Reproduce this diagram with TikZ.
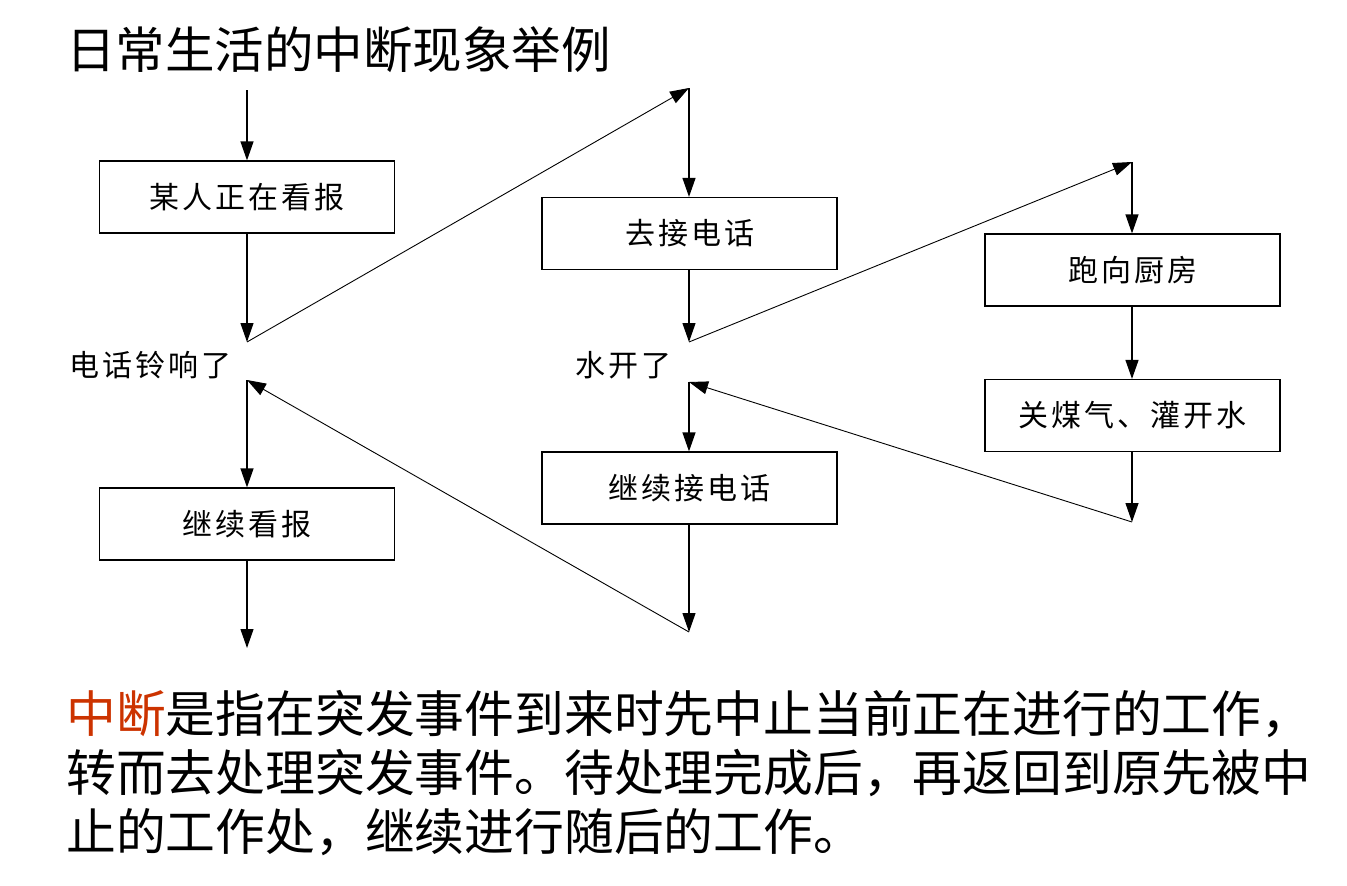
\documentclass[tikz,border=0pt]{standalone}
\usepackage{fontspec}
\setmainfont{Noto Sans CJK SC}
\newfontfamily\boxfont{Noto Sans CJK SC}[LetterSpace=10]
\usetikzlibrary{arrows.meta}
\definecolor{keyred}{RGB}{204,51,0}
\tikzset{
  stepbox/.style={draw=black, line width=1.2pt, minimum width=295pt, minimum height=72pt, inner sep=0pt, font=\boxfont\fontsize{30}{30}\selectfont},
  lbl/.style={inner sep=0pt, font=\boxfont\fontsize{30}{30}\selectfont},
  arr/.style={line width=1.2pt, -{Triangle[length=19pt,width=13pt]}},
  slant/.style={line width=0.9pt, -{Triangle[length=19pt,width=13pt]}},
}
\begin{document}
\begin{tikzpicture}[x=1pt,y=-1pt]
\useasboundingbox (0,0) rectangle (1347,886);
% title
\node[inner sep=0pt, anchor=base west, font=\fontsize{49.5}{49.5}\selectfont] (title) at (66,68) {日常生活的中断现象举例};
% boxes
\node[stepbox] (b1) at (247,197) {某人正在看报};
\node[stepbox] (b2) at (689.5,233.5) {去接电话};
\node[stepbox] (b3) at (1132.5,270) {跑向厨房};
\node[stepbox] (b4) at (1132.5,415.5) {关煤气、灌开水};
\node[stepbox] (b5) at (689.5,488) {继续接电话};
\node[stepbox] (b6) at (247,524) {继续看报};
% labels
\node[lbl] (l1) at (150,365) {电话铃响了};
\node[lbl] (l2) at (623,365) {水开了};
% points
\coordinate (c0) at (247,90);
\coordinate (p1) at (247,342);
\coordinate (r1) at (689,88);
\coordinate (p2) at (689,342);
\coordinate (r2) at (1132,162);
\coordinate (p3) at (1132,522);
\coordinate (q2) at (689,382);
\coordinate (p4) at (689,632);
\coordinate (q1) at (247,380);
\coordinate (e) at (247,648);
% connectors
\draw[arr] (c0) -- (b1.north);
\draw[arr] (b1.south) -- (p1);
\draw[slant] (p1) -- (r1);
\draw[arr] (r1) -- (b2.north -| r1);
\draw[arr] (b2.south -| r1) -- (p2);
\draw[slant] (p2) -- (r2);
\draw[arr] (r2) -- (b3.north -| r2);
\draw[arr] (b3.south -| r2) -- (b4.north -| r2);
\draw[arr] (b4.south -| r2) -- (p3);
\draw[slant] (p3) -- (q2);
\draw[arr] (q2) -- (b5.north -| q2);
\draw[arr] (b5.south -| q2) -- (p4);
\draw[slant] (p4) -- (q1);
\draw[arr] (q1) -- (b6.north);
\draw[arr] (b6.south) -- (e);
% explanation
\node[inner sep=0pt, anchor=north west, align=left, font=\fontsize{49.8}{59}\selectfont] (desc) at (66,690)
{\textcolor{keyred}{中断}是指在突发事件到来时先中止当前正在进行的工作，\\
转而去处理突发事件。待处理完成后，再返回到原先被中\\
止的工作处，继续进行随后的工作。};
\end{tikzpicture}
\end{document}
